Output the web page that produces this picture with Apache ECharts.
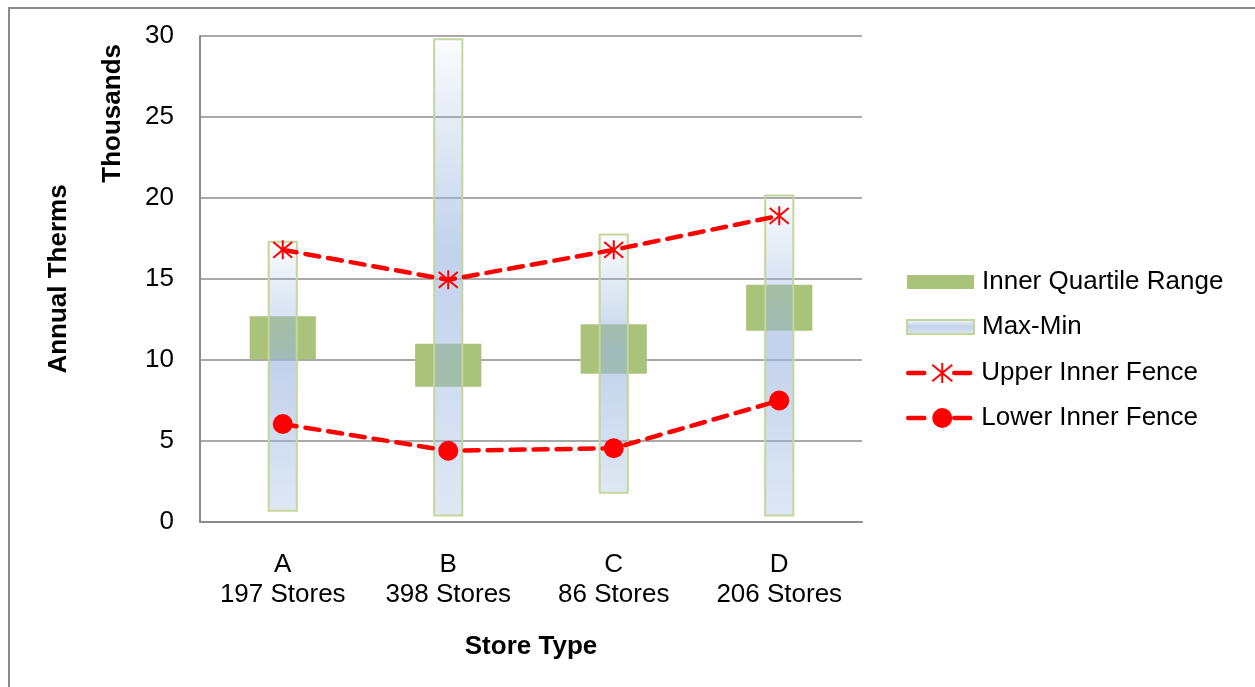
<!DOCTYPE html>
<html>
<head>
<meta charset="utf-8">
<script src="https://cdn.jsdelivr.net/npm/echarts@6/dist/echarts.min.js"></script>
<style>
  html, body { margin: 0; padding: 0; background: #fff; }
  #frame { position: absolute; left: 8px; top: 7px; width: 1400px; height: 800px; border: 2px solid #8c8c8c; box-sizing: border-box; }
  #chart { position: absolute; left: 0; top: 0; width: 1255px; height: 687px; }
</style>
</head>
<body>
<div id="frame"></div>
<div id="chart"></div>
<script>
// Store types and their counts
var categories = ['A', 'B', 'C', 'D'];
var storeCounts = [197, 398, 86, 206];

// Annual therms, in thousands
var iqrLow = [10.05, 8.35, 9.15, 11.8];
var iqrHigh = [12.7, 11.0, 12.2, 14.65];
var rangeMin = [0.7, 0.4, 1.8, 0.4];
var rangeMax = [17.3, 29.8, 17.75, 20.15];
var upperFence = [16.8, 14.95, 16.8, 18.9];
var lowerFence = [6.05, 4.4, 4.55, 7.5];

var yTicks = [0, 5, 10, 15, 20, 25, 30];

var FONT = '"Liberation Sans", Arial, sans-serif';
var FS = 26;

var axisLabels = categories.map(function (c, i) { return c + '\n' + storeCounts[i] + ' Stores'; });

var iqrColor = '#aac37b';
var rangeFill = new echarts.graphic.LinearGradient(0, 0, 0, 1, [
  { offset: 0, color: 'rgba(155,182,223,0.04)' },
  { offset: 0.45, color: 'rgba(155,182,223,0.62)' },
  { offset: 1, color: 'rgba(155,182,223,0.32)' }
]);
var rangeBorder = '#c3d69b';
var fenceColor = '#ff0000';

function boxRenderer(widthFrac, style) {
  return function (params, api) {
    var idx = api.value(0);
    var lo = api.coord([idx, api.value(1)]);
    var hi = api.coord([idx, api.value(2)]);
    var w = api.size([1, 0])[0] * widthFrac;
    return {
      type: 'rect',
      shape: { x: lo[0] - w / 2, y: hi[1], width: w, height: lo[1] - hi[1] },
      style: style
    };
  };
}

var asterisk = 'path://M0,0L10,10M10,0L0,10M5,-1L5,11';
var legendText = { fontFamily: FONT, fontSize: FS, color: '#000' };
var legendFenceLine = { color: fenceColor, width: 4.5, type: [16, 30], cap: 'round' };

var chart = echarts.init(document.getElementById('chart'), null, { renderer: 'canvas' });

chart.setOption({
  backgroundColor: 'transparent',
  animation: false,
  textStyle: { fontFamily: FONT, color: '#000' },
  grid: { left: 200, right: 393, top: 36, bottom: 165 },
  legend: [
    {
      orient: 'vertical',
      left: 906,
      top: 269,
      padding: 0,
      itemWidth: 67,
      itemHeight: 14,
      itemGap: 19,
      textStyle: { fontFamily: FONT, fontSize: FS, color: '#000', padding: [0, 0, 0, 3] },
      data: [
        { name: 'Inner Quartile Range', icon: 'rect' },
        { name: 'Max-Min', icon: 'rect' }
      ]
    },
    {
      orient: 'vertical',
      left: 906,
      top: 360,
      padding: 0,
      itemWidth: 68,
      itemHeight: 25,
      itemGap: 19,
      textStyle: legendText,
      data: [
        { name: 'Upper Inner Fence', lineStyle: legendFenceLine },
        { name: 'Lower Inner Fence', lineStyle: legendFenceLine }
      ]
    }
  ],
  xAxis: {
    type: 'category',
    data: axisLabels,
    name: 'Store Type',
    nameLocation: 'middle',
    nameGap: 112,
    nameTextStyle: { fontFamily: FONT, fontSize: FS, fontWeight: 'bold', color: '#000' },
    axisLine: { lineStyle: { color: '#8c8c8c', width: 2 } },
    axisTick: { show: false },
    axisLabel: { fontFamily: FONT, fontSize: FS, color: '#000', lineHeight: 30, margin: 28 }
  },
  yAxis: {
    type: 'value',
    min: yTicks[0],
    max: yTicks[yTicks.length - 1],
    interval: 5,
    name: 'Annual Therms',
    nameLocation: 'middle',
    nameGap: 128,
    nameTextStyle: { fontFamily: FONT, fontSize: FS, fontWeight: 'bold', color: '#000' },
    axisLine: { show: true, lineStyle: { color: '#8c8c8c', width: 2 } },
    axisTick: { show: false },
    axisLabel: { fontFamily: FONT, fontSize: FS, color: '#000', margin: 26 },
    splitLine: { lineStyle: { color: '#8c8c8c', width: 1.5 } }
  },
  graphic: [{
    type: 'text',
    left: 100,
    top: 44,
    rotation: Math.PI / 2,
    style: { text: 'Thousands', fontFamily: FONT, fontSize: FS, fontWeight: 'bold', fill: '#000' }
  }],
  series: [
    {
      name: 'Inner Quartile Range',
      type: 'custom',
      z: 2,
      itemStyle: { color: iqrColor },
      renderItem: boxRenderer(0.40, { fill: iqrColor }),
      encode: { x: 0, y: [1, 2] },
      data: iqrLow.map(function (v, i) { return [i, v, iqrHigh[i]]; })
    },
    {
      name: 'Max-Min',
      type: 'custom',
      z: 3,
      itemStyle: { color: rangeFill, borderColor: rangeBorder, borderWidth: 2 },
      renderItem: boxRenderer(0.17, { fill: rangeFill, stroke: rangeBorder, lineWidth: 2 }),
      encode: { x: 0, y: [1, 2] },
      data: rangeMin.map(function (v, i) { return [i, v, rangeMax[i]]; })
    },
    {
      name: 'Upper Inner Fence',
      type: 'line',
      z: 4,
      data: upperFence,
      symbol: asterisk,
      symbolSize: 19,
      showAllSymbol: true,
      lineStyle: { color: fenceColor, width: 4.5, type: [14, 9], cap: 'round' },
      itemStyle: { color: 'rgba(0,0,0,0)', borderColor: fenceColor, borderWidth: 2 }
    },
    {
      name: 'Lower Inner Fence',
      type: 'line',
      z: 4,
      data: lowerFence,
      symbol: 'circle',
      symbolSize: 20,
      showAllSymbol: true,
      lineStyle: { color: fenceColor, width: 4.5, type: [14, 9], cap: 'round' },
      itemStyle: { color: fenceColor, borderWidth: 0 }
    }
  ]
});
</script>
</body>
</html>
